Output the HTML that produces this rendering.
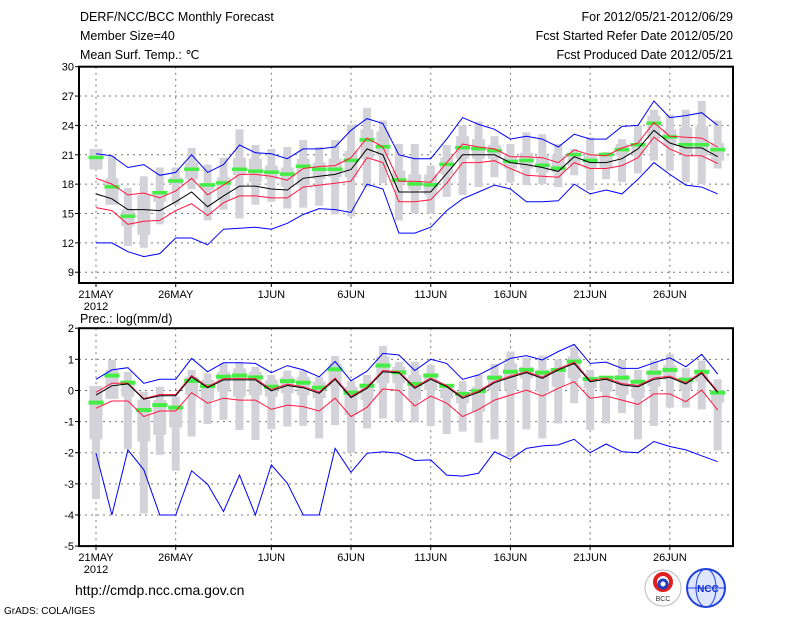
<!DOCTYPE html>
<html><head><meta charset="utf-8"><style>
body{margin:0;background:#fff;}
svg{display:block;font-family:"Liberation Sans",sans-serif;}
</style></head><body>
<svg id="c" width="800" height="618" viewBox="0 0 800 618">
<g font-size="12.5" fill="#000">
<text x="80" y="21">DERF/NCC/BCC Monthly Forecast</text>
<text x="80" y="40">Member Size=40</text>
<text x="80" y="59">Mean Surf. Temp.: ℃</text>
<text x="733" y="21" text-anchor="end">For 2012/05/21-2012/06/29</text>
<text x="733" y="40" text-anchor="end">Fcst Started Refer Date 2012/05/20</text>
<text x="733" y="59" text-anchor="end">Fcst Produced Date 2012/05/21</text>
<text x="80" y="323">Prec.: log(mm/d)</text>
</g>
<g>
<text x="75" y="595" font-size="14">http://cmdp.ncc.cma.gov.cn</text>
<text x="4" y="614" font-size="10">GrADS: COLA/IGES</text>
<g>
<circle cx="663" cy="588" r="18" fill="#fff" stroke="#bbb" stroke-width="1"/>
<circle cx="663" cy="582" r="8" fill="none" stroke="#e02020" stroke-width="4"/>
<circle cx="663" cy="584" r="4" fill="none" stroke="#2040c0" stroke-width="3"/>
<text x="663" y="601" font-size="7" text-anchor="middle" fill="#333">BCC</text>
</g>
<g>
<circle cx="706" cy="588" r="19" fill="#dfe6ff" stroke="#2040e0" stroke-width="2"/>
<ellipse cx="706" cy="588" rx="10" ry="19" fill="none" stroke="#2040e0"/>
<line x1="687" y1="588" x2="725" y2="588" stroke="#2040e0"/>
<text x="708" y="592" font-size="10" font-weight="bold" text-anchor="middle" fill="#1030d0">NCC</text>
</g>
</g>
</svg>
<script>
const days=40;
const dateLabels=["21MAY","26MAY","1JUN","6JUN","11JUN","16JUN","21JUN","26JUN"];
const dateDays=[0,5,11,16,21,26,31,36];
// temperature
const tBlueHi=[21.1,20.9,19.7,20.0,18.9,19.2,21.0,19.2,20.0,22.0,21.2,21.1,20.6,21.6,21.6,21.8,23.5,24.7,24.2,21.0,20.6,20.6,22.6,24.8,24.1,23.6,22.6,22.9,22.6,21.8,23.1,22.6,22.6,23.9,24.0,26.5,24.8,25.0,25.3,24.0];
const tRedHi=[18.6,18.0,16.9,17.1,16.6,17.3,18.6,16.9,17.9,19.0,19.0,18.8,18.4,19.6,19.8,19.9,20.7,22.7,21.8,18.3,18.3,18.2,20.2,22.1,21.8,21.6,20.8,20.8,20.7,20.2,21.5,21.0,20.9,21.7,22.2,24.3,22.9,22.8,22.7,21.8];
const tMean=[17.0,16.5,15.4,15.4,15.3,16.2,17.2,15.7,16.8,17.8,17.8,17.5,17.4,18.6,18.8,19.0,19.5,21.6,21.0,17.2,17.2,17.2,19.1,21.0,21.0,21.0,20.2,20.0,19.7,19.3,20.8,20.2,20.2,20.6,21.6,23.5,22.2,21.7,21.7,20.8];
const tRedLo=[15.6,15.3,13.9,14.2,14.3,15.3,16.0,14.8,16.1,16.8,16.8,16.6,16.6,17.7,17.9,18.1,18.3,20.7,20.2,16.2,16.2,16.4,18.1,20.2,20.2,20.4,19.6,18.9,18.8,18.7,20.2,19.6,19.6,19.9,20.7,22.8,21.6,20.9,20.9,20.1];
const tBlueLo=[12.0,12.0,11.1,10.6,10.9,12.5,12.5,11.8,13.4,13.5,13.6,13.4,14.0,14.9,15.5,15.4,15.1,18.0,17.5,13.0,13.0,13.6,15.3,16.5,17.2,17.9,17.5,16.2,16.2,16.3,18.0,17.0,17.4,17.0,18.5,20.2,19.0,17.9,17.7,17.0];
const tGreen=[20.7,17.7,14.7,null,17.1,18.3,19.5,17.9,18.1,19.5,19.3,19.2,19.0,19.8,19.5,19.5,20.4,22.5,21.8,18.4,18.0,17.9,20.0,21.7,21.6,21.4,20.3,20.4,19.9,19.6,21.0,20.4,21.0,21.5,22.0,24.2,22.8,22.0,22.0,21.5];
const tMax=[21.6,20.9,17.6,18.8,19.7,19.7,21.7,20.0,20.7,23.6,22.0,21.6,21.8,22.5,21.8,22.5,24.1,25.8,24.5,22.1,22.1,19.9,22.0,24.0,24.4,22.9,22.1,23.3,23.1,22.1,21.6,22.8,21.3,22.6,24.0,25.6,25.1,25.6,26.5,24.5];
const tQ3=[21.6,18.6,15.4,16.9,17.3,18.7,20.2,18.0,18.7,20.7,20.6,19.9,19.7,20.6,20.2,20.6,21.4,23.6,23.4,19.4,19.0,19.0,20.7,22.9,22.6,22.0,20.9,21.2,20.9,20.9,21.0,20.9,20.9,22.1,22.2,25.0,23.6,23.8,23.9,22.2];
const tQ1=[19.5,15.9,13.7,12.8,16.2,18.0,18.5,17.4,16.4,18.9,18.2,18.5,17.7,17.9,18.5,18.7,18.7,20.6,20.9,18.0,17.4,16.9,19.0,20.6,20.6,20.6,19.6,19.6,19.2,19.2,19.9,19.6,19.6,20.9,21.1,22.6,21.9,21.1,20.9,20.4];
const tMin=[19.5,15.9,11.7,11.5,13.9,15.9,17.5,14.3,15.4,14.5,15.9,16.2,15.5,15.6,15.8,14.9,14.7,17.7,18.1,14.3,15.0,15.0,16.7,16.9,17.7,18.7,18.2,17.9,18.0,17.7,18.9,17.4,18.5,18.2,19.1,20.4,19.4,18.2,18.0,19.6];
const tTicks=[9,12,15,18,21,24,27,30];
// precipitation
const pBlueHi=[0.36,0.66,0.73,0.23,0.36,0.36,1.03,0.60,0.89,0.89,0.87,0.57,0.80,0.66,0.44,0.93,0.31,0.62,1.19,1.14,0.64,1.0,0.87,0.36,0.50,0.76,1.03,1.12,0.98,1.25,1.48,0.87,0.91,0.71,0.71,0.89,1.05,0.76,1.16,0.53];
const pRedHi=[-0.06,0.23,0.23,-0.26,-0.13,-0.13,0.48,0.12,0.38,0.38,0.38,0.03,0.20,0.12,-0.05,0.40,-0.19,0.11,0.64,0.60,0.11,0.40,0.16,-0.21,-0.02,0.29,0.46,0.61,0.43,0.70,0.91,0.32,0.40,0.22,0.16,0.40,0.46,0.25,0.59,-0.03];
const pMean=[-0.15,0.15,0.21,-0.28,-0.17,-0.17,0.44,0.09,0.34,0.34,0.34,-0.01,0.16,0.09,-0.09,0.36,-0.23,0.07,0.60,0.57,0.07,0.36,0.12,-0.25,-0.06,0.25,0.42,0.57,0.39,0.66,0.87,0.28,0.36,0.18,0.12,0.36,0.42,0.21,0.55,-0.07];
const pRedLo=[-0.57,-0.34,-0.34,-0.84,-0.66,-0.66,-0.07,-0.41,-0.25,-0.31,-0.31,-0.61,-0.47,-0.52,-0.66,-0.25,-0.84,-0.54,0.05,0.0,-0.50,-0.18,-0.41,-0.84,-0.61,-0.31,-0.15,0.01,-0.18,0.07,0.28,-0.25,-0.18,-0.31,-0.45,-0.11,-0.11,-0.36,0.01,-0.63];
const pBlueLo=[-2.02,-4.0,-1.91,-2.55,-4.0,-4.0,-2.58,-3.01,-3.89,-2.72,-4.0,-2.39,-2.98,-4.0,-4.0,-1.86,-2.63,-2.02,-1.97,-2.02,-2.25,-2.23,-2.72,-2.75,-2.66,-1.97,-2.21,-1.86,-1.78,-1.75,-1.57,-2.0,-1.72,-1.97,-2.0,-1.64,-1.80,-1.91,-2.1,-2.29];
const pGreen=[-0.39,0.48,0.25,-0.63,-0.47,-0.55,0.31,0.14,0.44,0.48,0.42,0.12,0.30,0.25,0.09,0.68,-0.07,0.15,0.80,0.58,0.21,0.48,0.15,-0.11,-0.02,0.41,0.60,0.66,0.57,0.66,0.93,0.37,0.41,0.41,0.28,0.57,0.66,0.34,0.60,-0.07];
const pMax=[0.14,0.98,0.6,-0.04,0.12,-0.2,0.66,0.55,0.87,0.92,0.76,0.5,0.64,0.64,0.44,1.11,0.3,0.5,1.43,0.92,0.92,0.82,0.2,0.3,0.5,0.85,1.25,1.06,1.12,1.0,1.41,0.66,0.36,0.98,0.66,0.96,1.17,0.71,0.96,0.36];
const pQ3=[0.14,0.66,0.3,-0.31,-0.31,-0.52,0.44,0.34,0.6,0.71,0.6,0.34,0.44,0.44,0.28,0.87,0.12,0.23,1.09,0.76,0.5,0.55,0.07,-0.04,0.12,0.5,0.87,0.76,0.66,0.66,1.09,0.34,0.3,0.5,0.28,0.66,0.82,0.44,0.6,0.01];
const pQ1=[-1.57,-0.27,-0.2,-1.64,-1.43,-1.19,-0.15,-0.31,-0.04,-0.2,-0.15,-0.2,-0.09,-0.15,-0.25,0.12,-0.79,-0.31,0.23,0.23,-0.31,0.01,-0.25,-0.41,-0.68,0.01,0.01,0.39,-0.04,0.12,0.39,0.07,-0.04,-0.15,-0.25,0.12,0.34,0.01,0.28,-0.39];
const pMin=[-3.49,-0.27,-1.89,-3.95,-2.07,-2.58,-1.48,-1.08,-0.95,-1.27,-1.59,-1.24,-1.16,-1.14,-1.54,-1.11,-2.0,-1.22,-0.9,-1.0,-1.03,-1.14,-1.4,-1.32,-1.68,-1.57,-2.13,-1.25,-1.54,-1.06,-0.41,-1.27,-1.06,-0.73,-1.57,-1.14,-0.55,-0.55,-0.61,-1.93];
const pTicks=[-5,-4,-3,-2,-1,0,1,2];

const NS="http://www.w3.org/2000/svg";
const svg=document.getElementById('c');
const L=79,R=733;
function xS(i){return 96+i*15.94;}
function mk(tag,attrs,parent){const e=document.createElementNS(NS,tag);for(const k in attrs)e.setAttribute(k,attrs[k]);(parent||svg).appendChild(e);return e;}

function panel(name,top,bot,vTop,vBot,ticks,d,yearY){
  const g=mk('g',{});
  
  
  const yS=v=>top+(vTop-v)/(vTop-vBot)*(bot-top);
  // grid
  ticks.forEach(t=>{
    const y=yS(t);
    if(t!==vTop&&t!==vBot){const gl=mk('line',{x1:L,x2:R,y1:y,y2:y,stroke:'#777','stroke-dasharray':'2,4','stroke-width':1},g);
    
    }
    mk('line',{x1:L-4,x2:L,y1:y,y2:y,stroke:'#000'},g);
    const tx=mk('text',{x:L-5,y:y+4,'font-size':11,'text-anchor':'end'},g);
    tx.textContent=t;
    
    
  });
  dateDays.forEach((dd,k)=>{
    const x=xS(dd);
    const gl=mk('line',{x1:x,x2:x,y1:top,y2:bot,stroke:'#777','stroke-dasharray':'2,4'},g);
    
    
    mk('line',{x1:x,x2:x,y1:bot,y2:bot+4,stroke:'#000'},g);
    const tx=mk('text',{x:x,y:bot+15,'font-size':11,'text-anchor':'middle'},g);
    tx.textContent=dateLabels[k];
    
    
  });
  const yr=mk('text',{x:xS(0),y:bot+27,'font-size':11,'text-anchor':'middle'},g);
  yr.textContent='2012';
  
  
  // bars
  for(let i=0;i<days;i++){
    const x=xS(i);
    const w=mk('rect',{x:x-4,width:8,y:yS(d.max[i]),height:Math.max(1,yS(d.min[i])-yS(d.max[i])),fill:'#d2d2d8'},g);
    
    
    const b=mk('rect',{x:x-6.5,width:13,y:yS(d.q3[i]),height:Math.max(1,yS(d.q1[i])-yS(d.q3[i])),fill:'#d2d2d8'},g);
    
    
  }
  for(let i=0;i<days;i++){
    if(d.green[i]===null)continue;
    const gm=mk('rect',{x:xS(i)-7.5,width:15,y:yS(d.green[i])-2,height:d.gh,fill:'#44ee44'},g);
    
    
  }
  const lines=[['blue-upper-line',d.bh,'#0000ff'],['blue-lower-line',d.bl,'#0000ff'],['red-upper-line',d.rh,'#ff1840'],['red-lower-line',d.rl,'#ff1840'],['ensemble-mean-line',d.m,'#000']];
  lines.forEach(([n,arr,c])=>{
    const p=mk('polyline',{points:arr.map((v,i)=>xS(i).toFixed(1)+','+yS(v).toFixed(1)).join(' '),fill:'none',stroke:c,'stroke-width':1},g);
    
    
  });
  const fr=mk('rect',{x:L,y:top,width:R-L,height:bot-top,fill:'none',stroke:'#000','stroke-width':2},g);
  
  
}
panel('temperature-panel',66.7,283,30,7.9,tTicks,{bh:tBlueHi,rh:tRedHi,m:tMean,rl:tRedLo,bl:tBlueLo,green:tGreen,max:tMax,q3:tQ3,q1:tQ1,min:tMin,gh:3.5},0);
panel('precipitation-panel',328.2,546.1,2,-5,pTicks,{bh:pBlueHi,rh:pRedHi,m:pMean,rl:pRedLo,bl:pBlueLo,green:pGreen,max:pMax,q3:pQ3,q1:pQ1,min:pMin,gh:4},0);
</script>
</body></html>
